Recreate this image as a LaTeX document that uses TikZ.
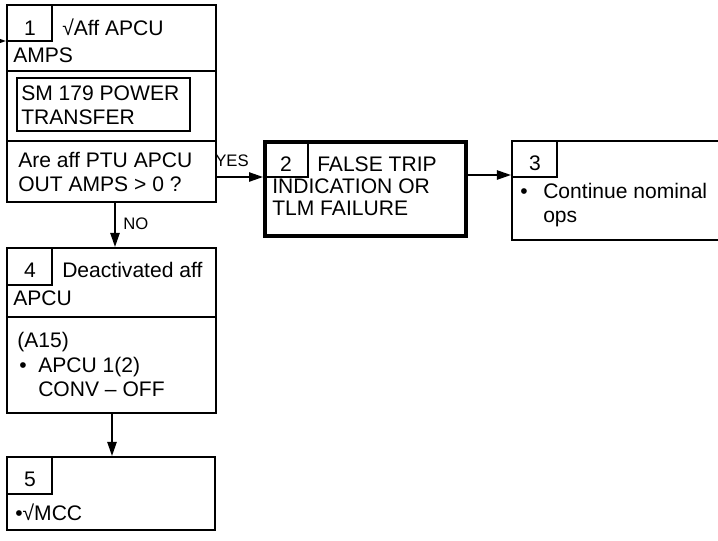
\documentclass[tikz,border=0pt]{standalone}
\usepackage{fontspec}
\setmainfont{Liberation Sans}
\usetikzlibrary{arrows.meta,fit}
\begin{document}
\begin{tikzpicture}[x=0.75pt,y=-0.75pt,
  box/.style={draw,line width=1.6pt,inner sep=0pt},
  thickbox/.style={draw,line width=3pt,inner sep=0pt},
  cell/.style={draw,line width=1.1pt,inner sep=0pt},
  divider/.style={line width=1.6pt},
  txt/.style={anchor=base west,inner sep=0pt,font=\fontsize{15.8}{18}\selectfont},
  num/.style={anchor=base,inner sep=0pt,font=\fontsize{15.8}{18}\selectfont},
  lbl/.style={anchor=base west,inner sep=0pt,font=\fontsize{12.5}{14}\selectfont},
  arr/.style={line width=1.1pt,-{Triangle[length=10.5pt,width=7pt]}}
]
\useasboundingbox (0,0) rectangle (718,540);

% ---- Box 1
\node[box,fit={(7,5)(216,202)}] (b1) {};
\node[cell,fit={(7,5)(52,41)}] (c1) {};
\node[num] (n1) at (30,35) {1};
\node[txt] (t1a) at (62,35) {√Aff APCU};
\node[txt] (t1b) at (13,62) {AMPS};
\draw[divider] (b1.west |- 0,71) -- (b1.east |- 0,71);
\node[box,fit={(17,78)(190,131)}] (sm) {};
\node[txt] (t1c) at (21,100) {SM 179 POWER};
\node[txt] (t1d) at (21,124) {TRANSFER};
\draw[divider] (b1.west |- 0,141) -- (b1.east |- 0,141);
\node[txt] (t1e) at (18,167) {Are aff PTU APCU};
\node[txt] (t1f) at (18,191) {OUT AMPS > 0 ?};

% entry arrow
\coordinate (in) at (-4,41);
\draw[arr] (in) -- (in -| b1.west);

% ---- Box 2
\node[thickbox,fit={(265,142)(466,236)}] (b2) {};
\node[cell,fit={(265,142)(308,177)}] (c2) {};
\node[num] (n2) at (286,171) {2};
\node[txt] (t2a) at (317,171) {FALSE TRIP};
\node[txt] (t2b) at (272,193) {INDICATION OR};
\node[txt] (t2c) at (272,215) {TLM FAILURE};

% ---- Box 3
\node[box,fit={(512,141)(725,240)}] (b3) {};
\node[cell,fit={(512,141)(557,177)}] (c3) {};
\node[num] (n3) at (535,170) {3};
\node[txt] (t3a) at (520,198) {•};
\node[txt] (t3b) at (543,198) {Continue nominal};
\node[txt] (t3c) at (543,222) {ops};

% ---- Box 4
\node[box,fit={(7,248)(216,413)}] (b4) {};
\node[cell,fit={(7,248)(52,285)}] (c4) {};
\node[num] (n4) at (30,277) {4};
\node[txt] (t4a) at (62,277) {Deactivated aff};
\node[txt] (t4b) at (13,305) {APCU};
\draw[divider] (b4.west |- 0,317) -- (b4.east |- 0,317);
\node[txt] (t4c) at (17,347) {(A15)};
\node[txt] (t4d) at (19,372) {•};
\node[txt] (t4e) at (38,372) {APCU 1(2)};
\node[txt] (t4f) at (38,396) {CONV – OFF};

% ---- Box 5
\node[box,fit={(7,457)(215,530)}] (b5) {};
\node[cell,fit={(7,457)(52,494)}] (c5) {};
\node[num] (n5) at (30,486) {5};
\node[txt] (t5a) at (15,520) {•√MCC};

% ---- connectors
\coordinate (yyes) at (0,177);
\draw[arr] (b1.east |- yyes) -- (b2.west |- yyes);
\node[lbl] (yes) at (215,166) {YES};

\coordinate (y23) at (0,175);
\draw[arr] (b2.east |- y23) -- (b3.west |- y23);

\coordinate (x14) at (115,0);
\draw[arr] (b1.south -| x14) -- (b4.north -| x14);
\node[lbl] (no) at (123,229) {NO};

\coordinate (x45) at (112,0);
\draw[arr] (b4.south -| x45) -- (b5.north -| x45);
\end{tikzpicture}
\end{document}
